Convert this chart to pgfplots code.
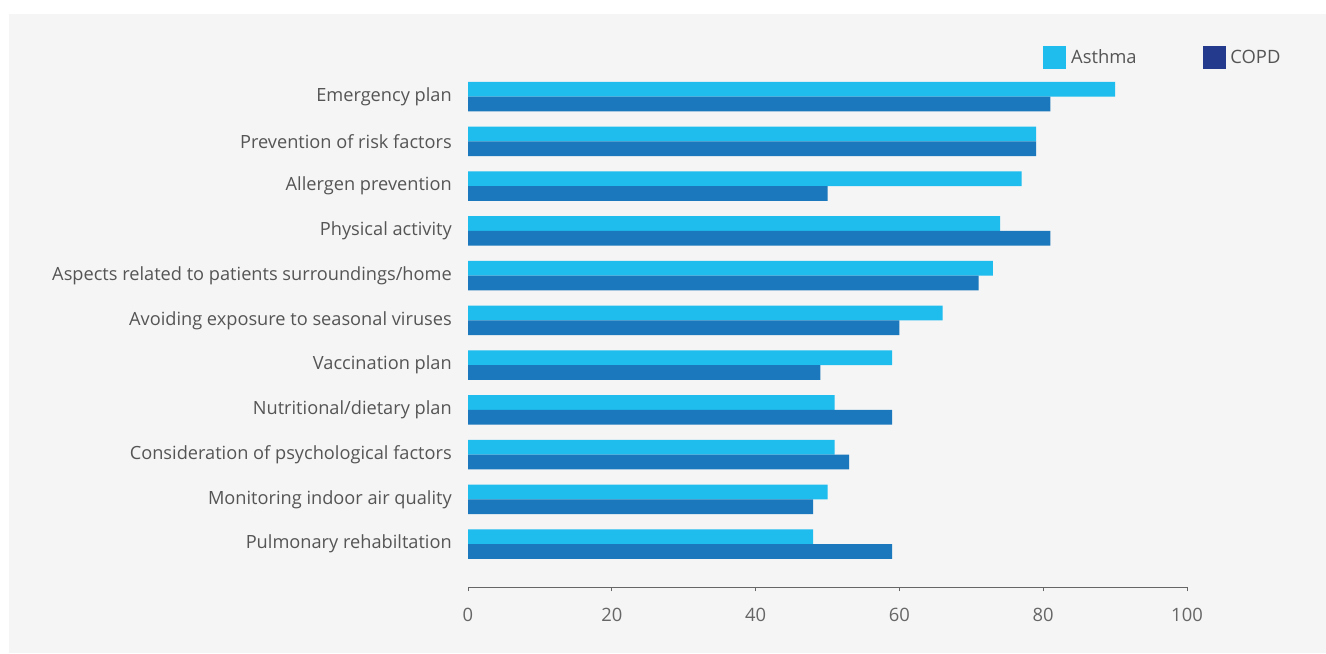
\documentclass[border=0pt]{standalone}
\usepackage{fontspec}
\setmainfont{Open Sans}
\usepackage{pgfplots}
\usepackage{pgfplotstable}
\pgfplotsset{compat=1.18}
\definecolor{bg}{HTML}{F5F5F5}
\definecolor{asthma}{HTML}{1FBCEE}
\definecolor{copd}{HTML}{1B78BC}
\definecolor{copdleg}{HTML}{243A8C}
\definecolor{labgray}{HTML}{555555}
\definecolor{tickgray}{HTML}{666666}
\definecolor{axgray}{HTML}{666666}

\pgfplotstableread{
y asthma copd
10 90 81
9 79 79
8 77 50
7 74 81
6 73 71
5 66 60
4 59 49
3 51 59
2 51 53
1 50 48
0 48 59
}\data

\begin{document}
\begin{tikzpicture}
\fill[white] (0pt,0pt) rectangle (994.5pt,-489.75pt);
\fill[bg] (6.75pt,-10.5pt) rectangle (994.5pt,-489.75pt);
\begin{axis}[
  at={(351pt,-440.25pt)}, anchor=south west,
  scale only axis, width=539.25pt, height=401.4pt,
  xmin=0, xmax=100, ymin=-0.96, ymax=11,
  axis x line*=bottom, axis y line*=left,
  y axis line style={draw=none},
  x axis line style={draw=axgray, line width=0.75pt},
  xtick={0,20,40,60,80,100},
  xtick style={draw=axgray, line width=0.75pt},
  tick align=outside, major tick length=3pt,
  ytick={0,...,10},
  ytick style={draw=none},
  yticklabels={Pulmonary rehabiltation, Monitoring indoor air quality, Consideration of psychological factors, Nutritional/dietary plan, Vaccination plan, Avoiding exposure to seasonal viruses, Aspects related to patients surroundings/home, Physical activity, Allergen prevention, Prevention of risk factors, Emergency plan},
  yticklabel style={font=\fontsize{13.65}{16}\selectfont, text=labgray, anchor=east, inner sep=0pt, xshift=-9pt},
  xticklabel style={font=\fontsize{13.8}{16}\selectfont, text=tickgray, yshift=-9pt},
  /pgf/number format/assume math mode=true,
  xbar, bar width=0.33,
  legend style={at={(0.8,0.989)}, anchor=west, draw=none, fill=none, inner sep=0pt,
     font=\fontsize{13.8}{16}\selectfont, text=labgray, legend columns=2,
     /tikz/every even column/.append style={column sep=46pt},
     nodes={inner xsep=3.5pt}},
  legend image code/.code={\fill[#1, draw=none] (0pt,-8.6pt) rectangle (17.25pt,8.6pt);},
  clip=false,
]
\addplot[draw=none, fill=asthma, bar shift=0.165, forget plot] table[x=asthma, y=y] {\data};
\addplot[draw=none, fill=copd, bar shift=-0.165, forget plot] table[x=copd, y=y] {\data};
\addlegendimage{fill=asthma, draw=none}
\addlegendentry{Asthma}
\addlegendimage{fill=copdleg, draw=none}
\addlegendentry{COPD}
\end{axis}
\end{tikzpicture}
\end{document}
